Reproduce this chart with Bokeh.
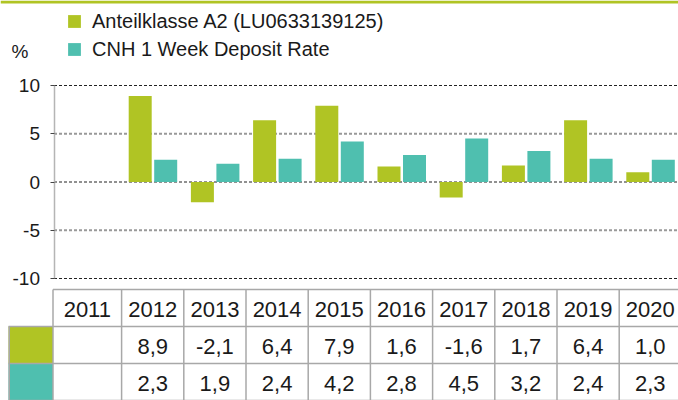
from bokeh.plotting import figure
from bokeh.models import (ColumnDataSource, Range1d, FixedTicker, Legend,
                          LegendItem, Label)
from bokeh.embed import file_html
from bokeh.resources import INLINE
from bokeh.core.properties import value
from bokeh.transform import dodge

# ---------------- data ----------------
years = ["2011", "2012", "2013", "2014", "2015", "2016", "2017", "2018", "2019", "2020"]
fund = [None, 8.9, -2.1, 6.4, 7.9, 1.6, -1.6, 1.7, 6.4, 1.0]
rate = [None, 2.3, 1.9, 2.4, 4.2, 2.8, 4.5, 3.2, 2.4, 2.3]
fund_label = "Anteilklasse A2 (LU0633139125)"
rate_label = "CNH 1 Week Deposit Rate"
y_ticks = [-10, -5, 0, 5, 10]
dark_grid = [-10, 0, 10]
light_grid = [-5, 5]
unit_label = "%"

# ---------------- style ----------------
GREEN = "#B0C424"
TEAL = "#4FBFAF"
FONT = "Liberation Sans"
TXT = "#1a1a1a"
TABLE_LINE = "#a8a8a8"

# layout constants (page pixels)
ORIGIN = 0            # page position of the canvas' top-left corner
PAGE_R, PAGE_B = 678, 400
PX_PER_CAT = 62.2
CAT0 = 90.0           # page x of first category centre
PX_PER_UNIT = 9.65
ZERO_Y = 181.5        # page y of value 0
AXIS_X = 53.5
TABLE_TOP = 289
ROW_H = 37
COL0_L, COL1_L = 8.75, 52.5


def xdata(px):
    return (px - CAT0) / PX_PER_CAT


def yval(py):
    return (ZERO_Y - py) / PX_PER_UNIT


p = figure(width=PAGE_R - ORIGIN, height=PAGE_B - ORIGIN, output_backend="svg",
           toolbar_location=None, x_axis_location=None,
           x_range=Range1d(xdata(ORIGIN), xdata(PAGE_R)),
           y_range=Range1d(yval(PAGE_B), yval(ORIGIN)),
           min_border=0)
p.outline_line_color = None
p.grid.visible = False

# ---- y axis (real axis, fixed inside the canvas) ----
ax = p.yaxis[0]
ax.fixed_location = xdata(AXIS_X)
ax.bounds = (min(y_ticks), max(y_ticks))
ax.ticker = FixedTicker(ticks=y_ticks)
ax.major_label_overrides = {t: str(t) for t in y_ticks}
ax.axis_line_color = "#b5b5b5"
ax.axis_line_width = 1.5
ax.major_tick_in = 0
ax.major_tick_out = 4
ax.major_tick_line_color = "#444444"
ax.minor_tick_line_color = None
ax.major_label_standoff = 10
ax.major_label_text_font = FONT
ax.major_label_text_font_size = "19px"
ax.major_label_text_color = TXT

# ---- grid lines ----
gx0, gx1 = xdata(AXIS_X), xdata(PAGE_R)
p.segment(x0=[gx0] * len(dark_grid), y0=dark_grid, x1=[gx1] * len(dark_grid),
          y1=dark_grid, line_color="#222222", line_width=1, line_dash="3 2")
p.segment(x0=[gx0] * len(light_grid), y0=light_grid, x1=[gx1] * len(light_grid),
          y1=light_grid, line_color="#999999", line_width=2, line_dash="3 2")

# ---- top rule ----
p.quad(left=[xdata(ORIGIN)], right=[xdata(PAGE_R)], top=[yval(ORIGIN)],
       bottom=[yval(ORIGIN + 3)], fill_color=GREEN, line_color=None)

# ---- bars ----
idx = [i for i, v in enumerate(fund) if v is not None]
src = ColumnDataSource(dict(x=idx,
                            fund=[fund[i] for i in idx],
                            rate=[rate[i] for i in idx]))
bw = 23 / PX_PER_CAT
rf = p.vbar(x=dodge("x", -12.5 / PX_PER_CAT), top="fund", bottom=0, width=bw,
            source=src, fill_color=GREEN, line_color=None)
rt = p.vbar(x=dodge("x", 13 / PX_PER_CAT), top="rate", bottom=0, width=bw,
            source=src, fill_color=TEAL, line_color=None)

legend = Legend(items=[LegendItem(label=fund_label, renderers=[rf]),
                       LegendItem(label=rate_label, renderers=[rt])],
                location=(66 - ORIGIN, PAGE_B - 60.5), orientation="vertical",
                glyph_width=16, glyph_height=16, label_height=16,
                label_standoff=10, spacing=5, padding=0, margin=0,
                label_text_font=FONT, label_text_font_size="20px",
                label_text_color=TXT,
                border_line_color=None, background_fill_alpha=0)
p.add_layout(legend)

p.add_layout(Label(x=xdata(11), y=yval(51), text=unit_label,
                   text_font=FONT, text_font_size="19px",
                   text_color=TXT, text_baseline="alphabetic"))

# ---------------- table ----------------
rows_top = [yval(TABLE_TOP + k * ROW_H) for k in range(4)]
row_mid = [yval(TABLE_TOP + (k + 0.5) * ROW_H + 1.4) for k in range(3)]
xl, xc, xr = xdata(COL0_L - 0.75), xdata(COL1_L), xdata(PAGE_R)

p.quad(left=[xl, xl], right=[xc, xc], top=rows_top[1:3], bottom=rows_top[2:4],
       fill_color=[GREEN, TEAL], line_color=None)

# horizontal rules
p.segment(x0=[xc, xl, xl, xl], y0=rows_top, x1=[xr] * 4, y1=rows_top,
          line_color=TABLE_LINE, line_width=1.5)
# vertical rules
vx = [xdata(COL0_L), xc] + [i - 0.5 for i in range(1, len(years))]
vy0 = [rows_top[1], rows_top[0]] + [rows_top[0]] * (len(years) - 1)
p.segment(x0=vx, y0=vy0, x1=vx, y1=[rows_top[3]] * len(vx),
          line_color=TABLE_LINE, line_width=1.5)


def fmt(v):
    return "" if v is None else f"{v:.1f}".replace(".", ",")


cell_x = [xdata((COL1_L + CAT0 + 0.5 * PX_PER_CAT) / 2)] + list(range(1, len(years)))
tsrc = ColumnDataSource(dict(
    x=cell_x * 3,
    y=[row_mid[0]] * len(years) + [row_mid[1]] * len(years) + [row_mid[2]] * len(years),
    txt=years + [fmt(v) for v in fund] + [fmt(v) for v in rate]))
p.text(x="x", y="y", text="txt", source=tsrc,
       text_align="center", text_baseline="middle",
       text_font=value(FONT), text_font_size="22px", text_color=TXT)

open("out.html", "w").write(file_html(p, INLINE))
